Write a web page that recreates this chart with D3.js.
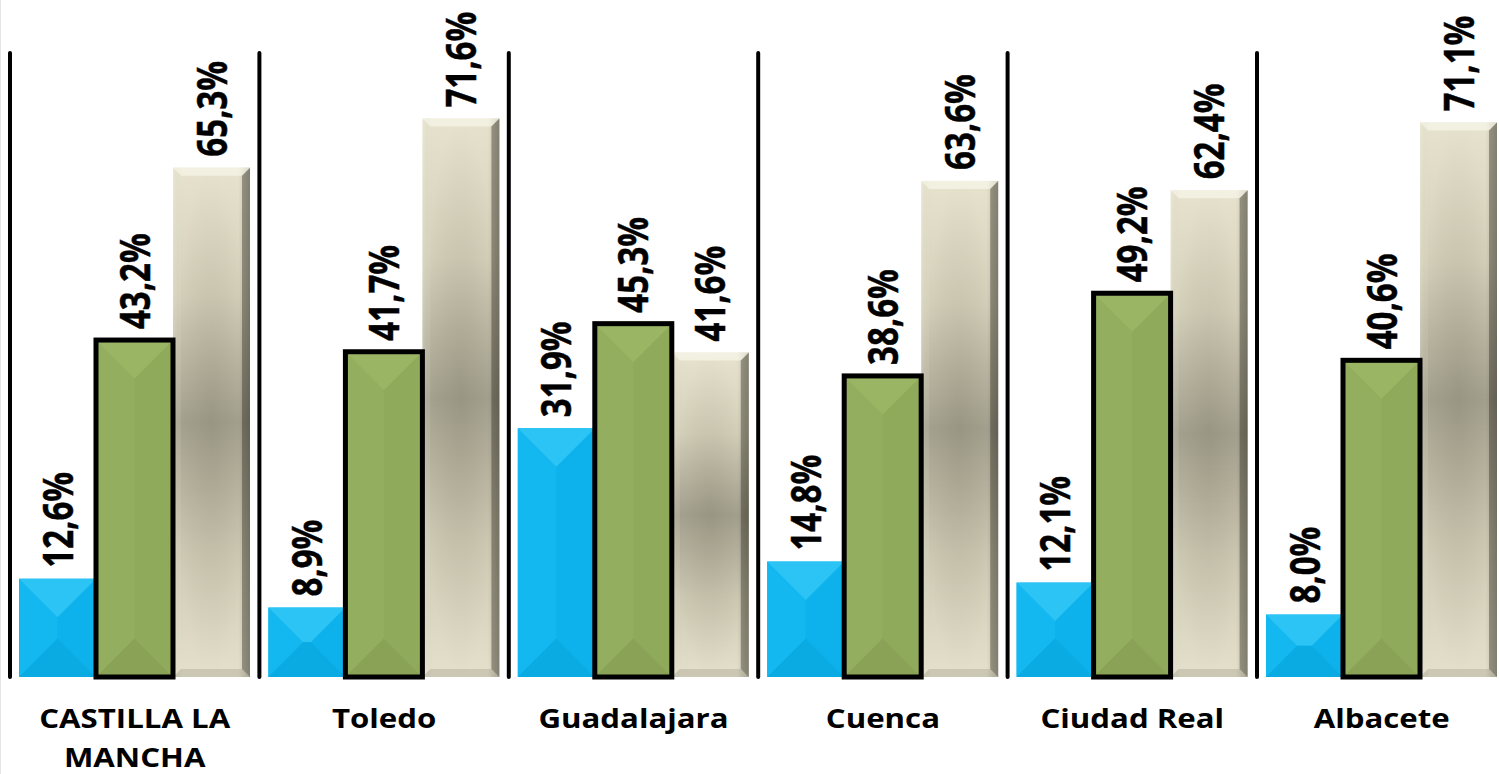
<!DOCTYPE html>
<html>
<head>
<meta charset="utf-8">
<script src="https://cdn.jsdelivr.net/npm/d3@7"></script>
<style>
  html, body { margin: 0; padding: 0; background: #ffffff; }
  svg { display: block; }
  text { font-family: "Open Sans", "Noto Sans", sans-serif; font-weight: 700; fill: #000; }
</style>
</head>
<body>
<svg id="chart" width="1499" height="774"></svg>
<script>
// ---- data ----
const categories = ["CASTILLA LA MANCHA", "Toledo", "Guadalajara", "Cuenca", "Ciudad Real", "Albacete"];
const seriesNames = ["Serie 1", "Serie 2", "Serie 3"];
const blueValues  = [12.6, 8.9, 31.9, 14.8, 12.1, 8.0];
const greenValues = [43.2, 41.7, 45.3, 38.6, 49.2, 40.6];
const beigeValues = [65.3, 71.6, 41.6, 63.6, 62.4, 71.1];
const yDomain = [0, 80];

const seriesValues = [blueValues, greenValues, beigeValues];

const svg = d3.select("#chart");
const W = 1499, H = 774;

// faint left frame line
svg.append("line").attr("x1", 0.5).attr("x2", 0.5).attr("y1", 0).attr("y2", H)
  .attr("stroke", "#e4e4e4").attr("stroke-width", 1);

const x0 = d3.scaleBand().domain(categories).range([10, 10 + 6 * 249.4]).paddingInner(0);
const x1 = d3.scaleBand().domain(seriesNames).range([9, 240]);
const y = d3.scaleLinear().domain(yDomain).range([677, 53]);

const defs = svg.append("defs");
const beigeGrad = defs.append("linearGradient").attr("id", "beigeBody")
  .attr("x1", 0).attr("y1", 0).attr("x2", 0).attr("y2", 1);
[[0, "#e6e2cd"], [0.25, "#d4d0ba"], [0.5, "#a7a391"], [0.75, "#cdc9b3"], [1, "#e4e0cb"]]
  .forEach(([o, c]) => beigeGrad.append("stop").attr("offset", o).attr("stop-color", c));
const beigeRad = defs.append("radialGradient").attr("id", "beigeRad")
  .attr("cx", 0.5).attr("cy", 0.5).attr("r", 0.5);
[[0, "rgba(90,88,70,0.18)"], [1, "rgba(90,88,70,0)"]]
  .forEach(([o, c]) => beigeRad.append("stop").attr("offset", o).attr("stop-color", c));
const beigeSide = defs.append("linearGradient").attr("id", "beigeSide")
  .attr("x1", 0).attr("y1", 0).attr("x2", 1).attr("y2", 0);
[[0, "rgba(255,255,240,0.10)"], [0.12, "rgba(0,0,0,0)"], [0.85, "rgba(0,0,0,0)"], [1, "rgba(0,0,0,0.18)"]]
  .forEach(([o, c]) => beigeSide.append("stop").attr("offset", o).attr("stop-color", c));

// separators
svg.append("g").selectAll("line").data(categories).join("line")
  .attr("x1", d => x0(d)).attr("x2", d => x0(d))
  .attr("y1", y(yDomain[1])).attr("y2", y(0))
  .attr("stroke", "#000").attr("stroke-width", 4).attr("stroke-linecap", "round");

const styles = [
  { base: "#10b6ef", top: "#2cc4f5", bottom: "#0aaae3", left: "#14b8f0", right: "#0db2ec", stroke: null, bevel: "pyramid" },
  { base: "#93ad5e", top: "#9ab664", bottom: "#89a255", left: "#93ae5e", right: "#90aa5b", stroke: "#000", bevel: "pyramid" },
  { base: "url(#beigeBody)", bevel: "edge" }
];

function facets(xa, ya, w, h, d) {
  const xb = xa + w, yb = ya + h;
  return {
    top: [[xa, ya], [xb, ya], [xb - d, ya + d], [xa + d, ya + d]],
    bottom: [[xa, yb], [xb, yb], [xb - d, yb - d], [xa + d, yb - d]],
    left: [[xa, ya], [xa + d, ya + d], [xa + d, yb - d], [xa, yb]],
    right: [[xb, ya], [xb - d, ya + d], [xb - d, yb - d], [xb, yb]]
  };
}
const pts = p => p.map(q => q.join(",")).join(" ");

const fmt = v => d3.format(".1f")(v).replace(".", ",") + "%";

const drawOrder = [0, 2, 1];
drawOrder.forEach(si => {
  const st = styles[si];
  const g = svg.append("g");
  categories.forEach((c, ci) => {
    const v = seriesValues[si][ci];
    const xa = x0(c) + x1(seriesNames[si]);
    const w = x1.bandwidth();
    const ya = y(v), h = y(0) - y(v);
    if (st.bevel === "pyramid") {
      const d = Math.min(w / 2, h / 2);
      const f = facets(xa, ya, w, h, d);
      g.append("rect").attr("x", xa).attr("y", ya).attr("width", w).attr("height", h).attr("fill", st.base);
      g.append("polygon").attr("points", pts(f.left)).attr("fill", st.left);
      g.append("polygon").attr("points", pts(f.right)).attr("fill", st.right);
      g.append("polygon").attr("points", pts(f.top)).attr("fill", st.top);
      g.append("polygon").attr("points", pts(f.bottom)).attr("fill", st.bottom);
      if (st.stroke) {
        g.append("rect").attr("x", xa).attr("y", ya).attr("width", w).attr("height", h)
          .attr("fill", "none").attr("stroke", st.stroke).attr("stroke-width", 5);
      }
    } else {
      const d = 8;
      const f = facets(xa, ya, w, h, d);
      g.append("rect").attr("x", xa).attr("y", ya).attr("width", w).attr("height", h).attr("fill", st.base);
      g.append("rect").attr("x", xa).attr("y", ya).attr("width", w).attr("height", h).attr("fill", "url(#beigeRad)");
      g.append("rect").attr("x", xa).attr("y", ya).attr("width", w).attr("height", h).attr("fill", "url(#beigeSide)");
      g.append("polygon").attr("points", pts(f.top)).attr("fill", "rgba(255,255,245,0.5)");
      g.append("polygon").attr("points", pts(f.left)).attr("fill", "rgba(255,255,240,0.12)");
      g.append("polygon").attr("points", pts(f.right)).attr("fill", "rgba(40,38,25,0.38)");
      g.append("polygon").attr("points", pts(f.bottom)).attr("fill", "rgba(60,58,40,0.14)");
    }
  });
});

// value labels
seriesValues.forEach((vals, si) => {
  categories.forEach((c, ci) => {
    const v = vals[ci];
    const cx = x0(c) + x1(seriesNames[si]) + x1.bandwidth() / 2;
    svg.append("text")
      .attr("transform", `translate(${cx},${y(v) - 11}) scale(1.27,1) rotate(-90)`)
      .attr("text-anchor", "start")
      .attr("dy", "0.36em")
      .attr("font-size", 33)
      .attr("stroke", "#000").attr("stroke-width", 0.4)
      .text(fmt(v));
  });
});

// category labels
const catG = svg.append("g");
categories.forEach(c => {
  const lines = c.length > 14 ? [c.slice(0, c.lastIndexOf(" ")), c.slice(c.lastIndexOf(" ") + 1)] : [c];
  const cx = x0(c) + x0.bandwidth() / 2;
  lines.forEach((ln, i) => {
    catG.append("text")
      .attr("transform", `translate(${cx},${728 + i * 39}) scale(1.2,1)`)
      .attr("text-anchor", "middle")
      .attr("font-size", 26)
      .text(ln);
  });
});
</script>
</body>
</html>
